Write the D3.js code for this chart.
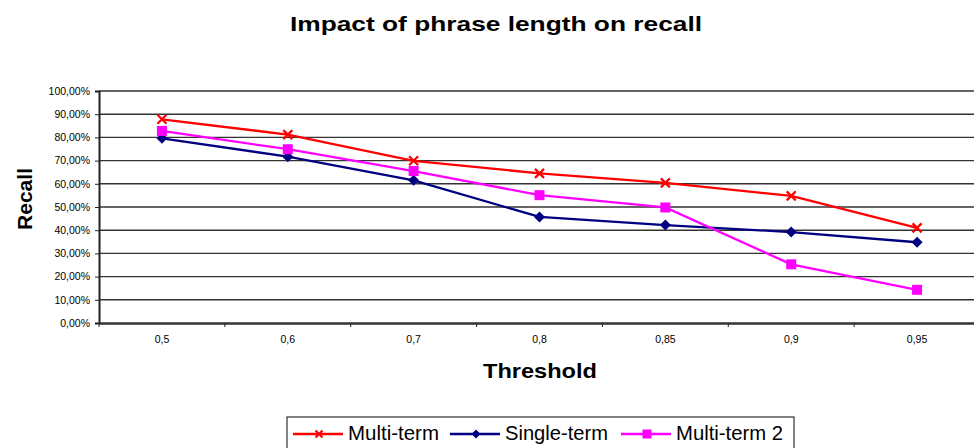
<!DOCTYPE html>
<html>
<head>
<meta charset="utf-8">
<script src="https://cdn.jsdelivr.net/npm/d3@7"></script>
<style>
  body { margin: 0; background: #fff; overflow: hidden; }
  svg { font-family: Arial, "Liberation Sans", sans-serif; display: block; }
</style>
</head>
<body>
<script>
var thresholds = ["0,5", "0,6", "0,7", "0,8", "0,85", "0,9", "0,95"];
var multiTerm = [0.878, 0.812, 0.699, 0.645, 0.604, 0.548, 0.410];
var singleTerm = [0.796, 0.717, 0.615, 0.457, 0.422, 0.392, 0.348];
var multiTerm2 = [0.828, 0.749, 0.655, 0.551, 0.498, 0.253, 0.143];
var yTicks = [0, 0.1, 0.2, 0.3, 0.4, 0.5, 0.6, 0.7, 0.8, 0.9, 1.0];

var series = [
  {name: "Multi-term", values: multiTerm, color: "#ff0000", marker: "x"},
  {name: "Single-term", values: singleTerm, color: "#000080", marker: "diamond"},
  {name: "Multi-term 2", values: multiTerm2, color: "#ff00ff", marker: "square"}
];

var W = 974, H = 448;
var margin = {top: 91, right: -6, bottom: 125, left: 99};
var width = W - margin.left - margin.right,
    height = H - margin.top - margin.bottom;

var svg = d3.select("body").append("svg")
    .attr("width", W)
    .attr("height", H);

var g = svg.append("g")
    .attr("transform", "translate(" + margin.left + "," + margin.top + ")");

var xScale = d3.scaleBand()
  .domain(thresholds)
  .range([0, width]);

var yScale = d3.scaleLinear()
  .domain([0, 1])
  .range([height, 0]);

// gridlines
g.selectAll(".grid")
  .data(yTicks.slice(1))
  .enter().append("line")
  .attr("class", "grid")
  .attr("x1", 0)
  .attr("x2", width)
  .attr("y1", function(d) { return yScale(d); })
  .attr("y2", function(d) { return yScale(d); })
  .attr("stroke", "#333")
  .attr("stroke-width", 1.4);

var fmt = function(d) { return (d * 100).toFixed(2).replace(".", ",") + "%"; };

var yAxis = d3.axisLeft(yScale)
  .tickValues(yTicks)
  .tickFormat(fmt)
  .tickSize(4)
  .tickPadding(5);

var yG = g.append("g").call(yAxis);
yG.select(".domain").attr("stroke", "#222").attr("stroke-width", 2);
yG.selectAll(".tick line").attr("stroke", "#222");
yG.selectAll(".tick text").style("font-size", "10.5px").attr("fill", "#000");

var xAxis = d3.axisBottom(xScale)
  .tickSize(0)
  .tickPadding(13);

var xG = g.append("g")
  .attr("transform", "translate(0," + height + ")")
  .call(xAxis);
xG.select(".domain").attr("stroke", "#333").attr("stroke-width", 2.5);
xG.selectAll(".tick text").style("font-size", "10.5px").attr("fill", "#000");

// category separator ticks
g.selectAll(".sep")
  .data(thresholds)
  .enter().append("line")
  .attr("x1", function(d) { return xScale(d); })
  .attr("x2", function(d) { return xScale(d); })
  .attr("y1", height)
  .attr("y2", height + 4)
  .attr("stroke", "#222");

var line = d3.line()
  .x(function(d, i) { return xScale(thresholds[i]) + xScale.bandwidth() / 2; })
  .y(function(d) { return yScale(d); });

function drawMarker(sel, type, color, size) {
  if (type === "x") {
    sel.append("path")
      .attr("d", "M" + (-size) + "," + (-size) + "L" + size + "," + size + "M" + size + "," + (-size) + "L" + (-size) + "," + size)
      .attr("stroke", color).attr("stroke-width", 2.2).attr("fill", "none");
  } else if (type === "diamond") {
    sel.append("path")
      .attr("d", "M0," + (-size) + "L" + size + ",0L0," + size + "L" + (-size) + ",0Z")
      .attr("fill", color);
  } else {
    sel.append("rect")
      .attr("x", -size).attr("y", -size)
      .attr("width", size * 2).attr("height", size * 2)
      .attr("fill", color);
  }
}

series.forEach(function(s) {
  g.append("path")
    .datum(s.values)
    .attr("d", line)
    .attr("fill", "none")
    .attr("stroke", s.color)
    .attr("stroke-width", 2.3);
});

series.forEach(function(s) {
  s.values.forEach(function(v, i) {
    var m = g.append("g")
      .attr("transform", "translate(" + (xScale(thresholds[i]) + xScale.bandwidth() / 2) + "," + yScale(v) + ")");
    drawMarker(m, s.marker, s.color, s.marker === "x" ? 4.5 : (s.marker === "diamond" ? 5.5 : 5));
  });
});

// titles (reference glyphs are wider, so fit text to measured widths)
svg.append("text")
  .attr("x", 496).attr("y", 31)
  .attr("text-anchor", "middle")
  .attr("textLength", 412).attr("lengthAdjust", "spacingAndGlyphs")
  .style("font-size", "21px").style("font-weight", "bold")
  .text("Impact of phrase length on recall");

svg.append("text")
  .attr("x", 540).attr("y", 378)
  .attr("text-anchor", "middle")
  .attr("textLength", 114).attr("lengthAdjust", "spacingAndGlyphs")
  .style("font-size", "21px").style("font-weight", "bold")
  .text("Threshold");

svg.append("text")
  .attr("transform", "translate(32,199) rotate(-90)")
  .attr("text-anchor", "middle")
  .attr("textLength", 62).attr("lengthAdjust", "spacingAndGlyphs")
  .style("font-size", "21px").style("font-weight", "bold")
  .text("Recall");

// legend
var legend = svg.append("g").attr("transform", "translate(287,417)");
legend.append("rect")
  .attr("x", 0).attr("y", 0)
  .attr("width", 507).attr("height", 40)
  .attr("fill", "#fff").attr("stroke", "#333").attr("stroke-width", 1.2);

var lx = [6, 163, 334];
var lw = [91, 103, 107];
series.forEach(function(s, i) {
  var item = legend.append("g").attr("transform", "translate(" + lx[i] + ",17)");
  item.append("line").attr("x1", 0).attr("x2", 50).attr("y1", 0).attr("y2", 0)
    .attr("stroke", s.color).attr("stroke-width", 2.3);
  var m = item.append("g").attr("transform", "translate(26,0)");
  drawMarker(m, s.marker, s.color, s.marker === "x" ? 3.5 : 4.5);
  item.append("text")
    .attr("x", 55).attr("y", 6)
    .attr("textLength", lw[i]).attr("lengthAdjust", "spacingAndGlyphs")
    .style("font-size", "20px")
    .text(s.name);
});
</script>
</body>
</html>
